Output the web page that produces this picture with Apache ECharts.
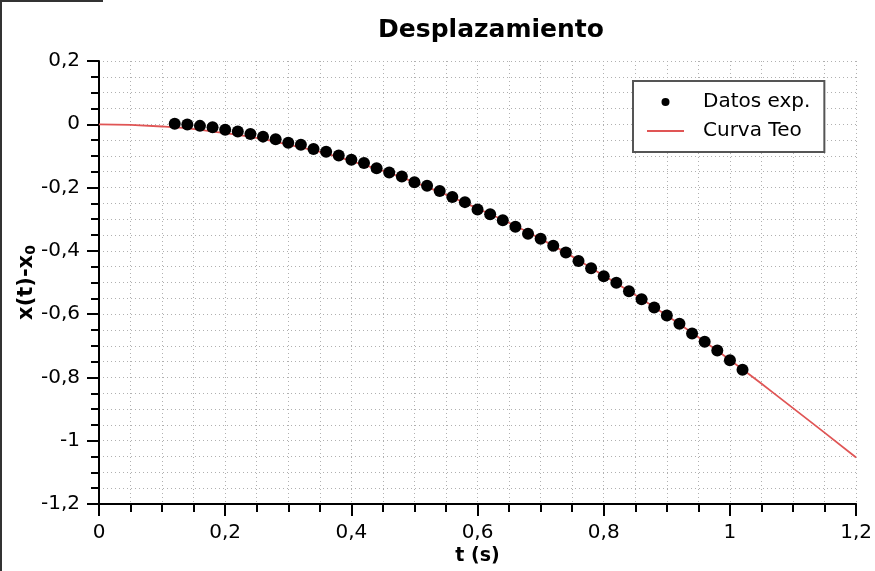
<!DOCTYPE html>
<html>
<head>
<meta charset="utf-8">
<title>Desplazamiento</title>
<script src="https://cdn.jsdelivr.net/npm/echarts@6/dist/echarts.min.js"></script>
<style>
  html, body { margin: 0; padding: 0; background: #fff; }
  #main { width: 875px; height: 571px; }
</style>
</head>
<body>
<div id="main"></div>
<script>
// datos experimentales (t en s, x(t)-x0)
var tExp = [0.12, 0.14, 0.16, 0.18, 0.20, 0.22, 0.24, 0.26, 0.28, 0.30,
  0.32, 0.34, 0.36, 0.38, 0.40, 0.42, 0.44, 0.46, 0.48, 0.50,
  0.52, 0.54, 0.56, 0.58, 0.60, 0.62, 0.64, 0.66, 0.68, 0.70,
  0.72, 0.74, 0.76, 0.78, 0.80, 0.82, 0.84, 0.86, 0.88, 0.90,
  0.92, 0.94, 0.96, 0.98, 1.00, 1.02];
var xExp = [0.002, -0.001, -0.005, -0.009, -0.017, -0.023, -0.031, -0.039, -0.047, -0.058,
  -0.065, -0.078, -0.087, -0.099, -0.112, -0.122, -0.139, -0.152, -0.165, -0.183,
  -0.194, -0.211, -0.230, -0.246, -0.269, -0.284, -0.303, -0.324, -0.346, -0.362,
  -0.384, -0.405, -0.432, -0.455, -0.480, -0.501, -0.528, -0.553, -0.579, -0.604,
  -0.630, -0.661, -0.687, -0.715, -0.746, -0.776];

// curva teorica
var tTeo = [0, 0.1, 0.2, 0.3, 0.4, 0.5, 0.6, 0.7, 0.8, 0.9, 1.0, 1.1, 1.2];
var xTeo = [0, -0.007, -0.028, -0.064, -0.116, -0.183, -0.266, -0.362, -0.478, -0.604, -0.745, -0.897, -1.053];

var xTicks = { min: 0, max: 1.2, interval: 0.2 };
var yTicks = { min: -1.2, max: 0.2, interval: 0.2 };

var expData = tExp.map(function (t, i) { return [t, xExp[i]]; });
var teoData = tTeo.map(function (t, i) { return [t, xTeo[i]]; });

var font = "DejaVu Sans";
function coma(v) { return String(v).replace(".", ","); }

function ejeBase() {
  return {
    axisLine: { show: true, onZero: false, lineStyle: { color: "#000", width: 2 } },
    axisTick: { show: true, length: 12, lineStyle: { color: "#000", width: 2 } },
    minorTick: { show: true, splitNumber: 4, length: 8, lineStyle: { color: "#000", width: 2 } },
    splitLine: { show: true, lineStyle: { color: "#b0b0b0", type: [1, 3], width: 1 } },
    minorSplitLine: { show: true, lineStyle: { color: "#b0b0b0", type: [1, 3], width: 1 } },
    axisLabel: { fontFamily: font, fontSize: 20, color: "#000", margin: 19, formatter: coma },
    nameMoveOverlap: false,
    nameTextStyle: { fontFamily: font, fontWeight: "bold", fontSize: 19, color: "#000" }
  };
}

var myChart = echarts.init(document.getElementById("main"));

var xAxis = Object.assign(ejeBase(), {
  type: "value",
  min: xTicks.min, max: xTicks.max, interval: xTicks.interval,
  name: "t (s)", nameLocation: "middle", nameGap: 43
});
var yAxis = Object.assign(ejeBase(), {
  type: "value",
  min: yTicks.min, max: yTicks.max, interval: yTicks.interval,
  name: "x(t)-x{sub|0}", nameLocation: "middle", nameGap: 61,
  nameTextStyle: {
    fontFamily: font, fontWeight: "bold", fontSize: 21, color: "#000",
    rich: { sub: { fontFamily: font, fontWeight: "bold", fontSize: 14, color: "#000", verticalAlign: "bottom", padding: [8, 0, 0, 0] } }
  }
});

myChart.setOption({
  animation: false,
  backgroundColor: "#fff",
  title: {
    text: "Desplazamiento",
    left: 486, top: 13, textAlign: "center",
    textStyle: { fontFamily: font, fontWeight: "bold", fontSize: 25, color: "#000" }
  },
  legend: {
    orient: "vertical",
    left: 633, top: 81,
    padding: [11, 14, 11, 14],
    itemGap: 9,
    itemWidth: 37,
    itemHeight: 8,
    borderColor: "#555",
    borderWidth: 2,
    backgroundColor: "#fff",
    textStyle: { fontFamily: font, fontSize: 20, color: "#000", lineHeight: 20, padding: [0, 0, 0, 14] },
    data: [
      { name: "Datos exp.", icon: "circle" },
      { name: "Curva Teo", icon: "path://M0,0 L37,0 L37,2 L0,2 Z" }
    ]
  },
  grid: { left: 99, right: 17, top: 61, bottom: 66, containLabel: false },
  xAxis: xAxis,
  yAxis: yAxis,
  series: [
    {
      name: "Curva Teo",
      type: "line",
      data: teoData,
      smooth: true,
      symbol: "none",
      lineStyle: { color: "#e05555", width: 1.8 },
      itemStyle: { color: "#e05555" },
      z: 2
    },
    {
      name: "Datos exp.",
      type: "scatter",
      data: expData,
      symbol: "circle",
      symbolSize: 12,
      itemStyle: { color: "#000", opacity: 1 },
      z: 3
    }
  ],
  graphic: [
    { type: "rect", shape: { x: 0, y: 0, width: 2, height: 571 }, style: { fill: "#333" } },
    { type: "rect", shape: { x: 0, y: 0, width: 103, height: 2 }, style: { fill: "#333" } }
  ]
});
</script>
</body>
</html>
